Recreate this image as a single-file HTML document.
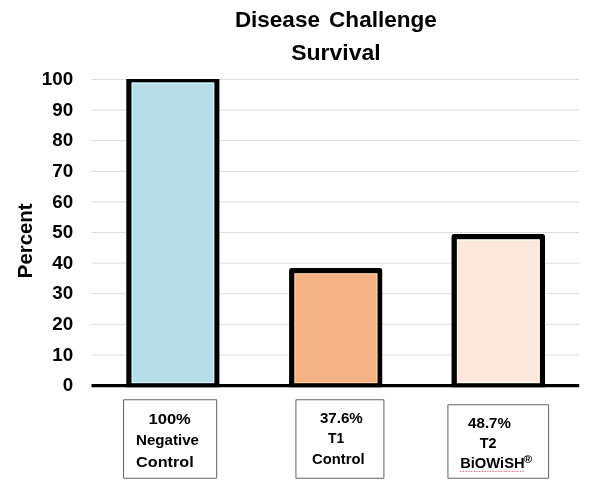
<!DOCTYPE html>
<html lang="en">
<head>
<meta charset="utf-8">
<title>Disease Challenge Survival</title>
<style>
html,body{margin:0;padding:0;background:#fff;}
body{width:600px;height:492px;overflow:hidden;}
svg{display:block;}
svg text{font-family:"Liberation Sans",sans-serif;font-weight:bold;fill:#000;}
</style>
</head>
<body>
<svg width="600" height="492" viewBox="0 0 600 492">
<rect width="600" height="492" fill="#fff"/>
<line x1="91.5" y1="79.50" x2="579.2" y2="79.50" stroke="#dcdcdc" stroke-width="1"/>
<line x1="91.5" y1="110.10" x2="579.2" y2="110.10" stroke="#dcdcdc" stroke-width="1"/>
<line x1="91.5" y1="140.70" x2="579.2" y2="140.70" stroke="#dcdcdc" stroke-width="1"/>
<line x1="91.5" y1="171.30" x2="579.2" y2="171.30" stroke="#dcdcdc" stroke-width="1"/>
<line x1="91.5" y1="201.90" x2="579.2" y2="201.90" stroke="#dcdcdc" stroke-width="1"/>
<line x1="91.5" y1="232.50" x2="579.2" y2="232.50" stroke="#dcdcdc" stroke-width="1"/>
<line x1="91.5" y1="263.10" x2="579.2" y2="263.10" stroke="#dcdcdc" stroke-width="1"/>
<line x1="91.5" y1="293.70" x2="579.2" y2="293.70" stroke="#dcdcdc" stroke-width="1"/>
<line x1="91.5" y1="324.30" x2="579.2" y2="324.30" stroke="#dcdcdc" stroke-width="1"/>
<line x1="91.5" y1="354.90" x2="579.2" y2="354.90" stroke="#dcdcdc" stroke-width="1"/>
<clipPath id="plot"><rect x="91.5" y="79.0" width="487.70000000000005" height="308.35"/></clipPath>
<g clip-path="url(#plot)">
<path d="M126.3 388V79.50a2.6 2.6 0 0 1 2.6 -2.6H216.80a2.6 2.6 0 0 1 2.6 2.6V388Z" fill="#000"/>
<rect x="131.6" y="82.45" width="82.70" height="300.75" fill="#b7dde8"/>
<rect x="132.30" y="83.15" width="81.30" height="299.35" fill="none" stroke="#d0f9fe" stroke-width="1.1"/>
<path d="M289.1 388V270.70a2.6 2.6 0 0 1 2.6 -2.6H379.60a2.6 2.6 0 0 1 2.6 2.6V388Z" fill="#000"/>
<rect x="294.4" y="273.25" width="83.05" height="109.95" fill="#f4b183"/>
<rect x="295.10" y="273.95" width="81.65" height="108.55" fill="none" stroke="#ffcb9a" stroke-width="1.1"/>
<path d="M451.55 388V236.65a2.6 2.6 0 0 1 2.6 -2.6H542.40a2.6 2.6 0 0 1 2.6 2.6V388Z" fill="#000"/>
<rect x="456.85" y="239.35" width="82.95" height="143.85" fill="#fce8da"/>
<rect x="457.55" y="240.05" width="81.55" height="142.45" fill="none" stroke="#fffaf0" stroke-width="1.1"/>
</g>
<line x1="91.5" y1="385.68" x2="579.2" y2="385.68" stroke="#000" stroke-width="3.35"/>
<rect x="172.2" y="387.2" width="1.4" height="0.8" fill="#8a8a8a"/>
<rect x="334.9" y="387.2" width="1.4" height="0.8" fill="#8a8a8a"/>
<rect x="497.5" y="387.2" width="1.4" height="0.8" fill="#8a8a8a"/>
<g><text x="73.15" y="85.25" font-size="17.7" textLength="31.35" lengthAdjust="spacingAndGlyphs" text-anchor="end">100</text><text x="73.15" y="115.85" font-size="17.7" textLength="20.9" lengthAdjust="spacingAndGlyphs" text-anchor="end">90</text><text x="73.15" y="146.45" font-size="17.7" textLength="20.9" lengthAdjust="spacingAndGlyphs" text-anchor="end">80</text><text x="73.15" y="177.05" font-size="17.7" textLength="20.9" lengthAdjust="spacingAndGlyphs" text-anchor="end">70</text><text x="73.15" y="207.65" font-size="17.7" textLength="20.9" lengthAdjust="spacingAndGlyphs" text-anchor="end">60</text><text x="73.15" y="238.25" font-size="17.7" textLength="20.9" lengthAdjust="spacingAndGlyphs" text-anchor="end">50</text><text x="73.15" y="268.85" font-size="17.7" textLength="20.9" lengthAdjust="spacingAndGlyphs" text-anchor="end">40</text><text x="73.15" y="299.45" font-size="17.7" textLength="20.9" lengthAdjust="spacingAndGlyphs" text-anchor="end">30</text><text x="73.15" y="330.05" font-size="17.7" textLength="20.9" lengthAdjust="spacingAndGlyphs" text-anchor="end">20</text><text x="73.15" y="360.65" font-size="17.7" textLength="20.9" lengthAdjust="spacingAndGlyphs" text-anchor="end">10</text><text x="73.15" y="391.25" font-size="17.7" textLength="10.45" lengthAdjust="spacingAndGlyphs" text-anchor="end">0</text></g>
<text y="27.1" font-size="22"><tspan x="234.9" textLength="85" lengthAdjust="spacingAndGlyphs">Disease</tspan> <tspan x="329.05" textLength="107.85" lengthAdjust="spacingAndGlyphs">Challenge</tspan></text>
<text x="291.2" y="60.1" font-size="22" textLength="89.55" lengthAdjust="spacingAndGlyphs" text-anchor="start">Survival</text>
<text transform="translate(32 278.2) rotate(-90)" font-size="20.4" textLength="74.7" lengthAdjust="spacingAndGlyphs">Percent</text>
<rect x="123.5" y="399.75" width="93.2" height="78.4" rx="0.8" fill="#fff" stroke="#666" stroke-width="1.05"/>
<rect x="295.9" y="399.8" width="88.0" height="78.4" rx="0.8" fill="#fff" stroke="#666" stroke-width="1.05"/>
<rect x="447.9" y="404.8" width="100.7" height="73.4" rx="0.8" fill="#fff" stroke="#666" stroke-width="1.05"/>
<text x="148.5" y="423.6" font-size="15" textLength="42.3" lengthAdjust="spacingAndGlyphs" text-anchor="start">100%</text>
<text x="136.0" y="444.6" font-size="15" textLength="63.0" lengthAdjust="spacingAndGlyphs" text-anchor="start">Negative</text>
<text x="136.05" y="466.8" font-size="15" textLength="57.6" lengthAdjust="spacingAndGlyphs" text-anchor="start">Control</text>
<text x="319.9" y="422.5" font-size="14.7" textLength="42.9" lengthAdjust="spacingAndGlyphs" text-anchor="start">37.6%</text>
<text x="328.05" y="442.6" font-size="14.7" textLength="16.2" lengthAdjust="spacingAndGlyphs" text-anchor="start">T1</text>
<text x="312.1" y="463.7" font-size="14.7" textLength="52.5" lengthAdjust="spacingAndGlyphs" text-anchor="start">Control</text>
<text x="468.1" y="427.5" font-size="14.7" textLength="42.8" lengthAdjust="spacingAndGlyphs" text-anchor="start">48.7%</text>
<text x="479.8" y="447.6" font-size="14.7" textLength="16.7" lengthAdjust="spacingAndGlyphs" text-anchor="start">T2</text>
<text x="460.15" y="468.1" font-size="14.7" textLength="64.5" lengthAdjust="spacingAndGlyphs" text-anchor="start">BiOWiSH</text>
<text x="523.6" y="462.6" font-size="10" textLength="8.7" lengthAdjust="spacingAndGlyphs" text-anchor="start">®</text>
<line x1="460.3" y1="471.4" x2="524.6" y2="471.4" stroke="#e35a5e" stroke-width="1" stroke-dasharray="1.3 1.4"/>
</svg>
</body>
</html>
